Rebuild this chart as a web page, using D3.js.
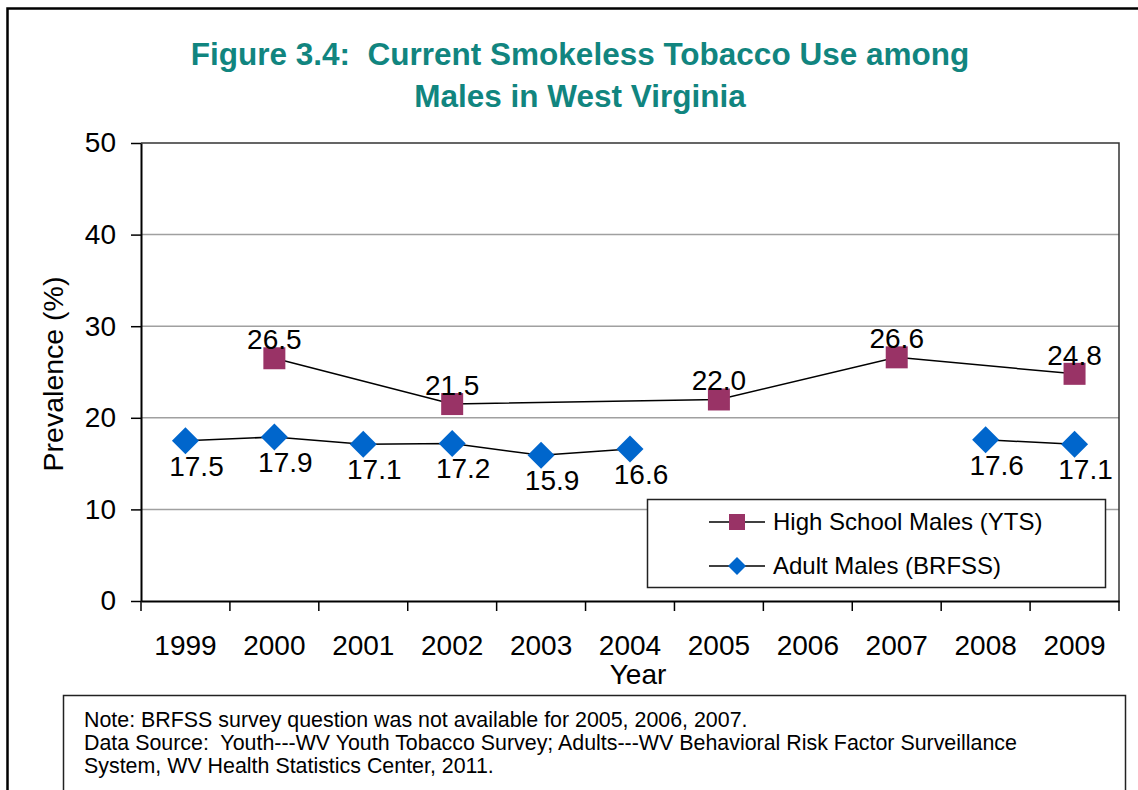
<!DOCTYPE html>
<html>
<head>
<meta charset="utf-8">
<script src="https://cdn.jsdelivr.net/npm/d3@7"></script>
<style>
  html, body { margin: 0; padding: 0; background: #fff; }
  svg { display: block; font-family: "Liberation Sans", Arial, sans-serif; }
  svg text { white-space: pre; }
</style>
</head>
<body>
<svg id="chart" width="1138" height="790"></svg>
<script>
// Survey years on the category axis
const years = ["1999", "2000", "2001", "2002", "2003", "2004", "2005", "2006", "2007", "2008", "2009"];
// High school males, Youth Tobacco Survey (null = not surveyed)
const ytsValues = [null, 26.5, null, 21.5, null, null, 22.0, null, 26.6, null, 24.8];
// Adult males, BRFSS (null = question not asked)
const brfssValues = [17.5, 17.9, 17.1, 17.2, 15.9, 16.6, null, null, null, 17.6, 17.1];
// Value axis ticks
const yTicks = [0, 10, 20, 30, 40, 50];
const seriesNames = ["High School Males (YTS)", "Adult Males (BRFSS)"];
const titleLines = ["Figure 3.4:  Current Smokeless Tobacco Use among", "Males in West Virginia"];
const noteLines = [
  "Note: BRFSS survey question was not available for 2005, 2006, 2007.",
  "Data Source:  Youth---WV Youth Tobacco Survey; Adults---WV Behavioral Risk Factor Surveillance",
  "System, WV Health Statistics Center, 2011."
];

const svg = d3.select("#chart");
const plot = { left: 141, right: 1119, top: 143, bottom: 601 };
const ytsColor = "#993366";
const brfssColor = "#0066cc";

// Outer frame
svg.append("rect")
  .attr("x", 7.5).attr("y", 8.5)
  .attr("width", 1200).attr("height", 900)
  .attr("fill", "none").attr("stroke", "#000").attr("stroke-width", 2.5);

// Title
svg.append("g").selectAll("text")
  .data(titleLines)
  .join("text")
  .attr("x", 580)
  .attr("y", (d, i) => 65 + i * 42)
  .attr("text-anchor", "middle")
  .attr("font-size", "31.5px")
  .attr("font-weight", "bold")
  .attr("fill", "#11857f")
  .text(d => d);

const x = d3.scaleBand().domain(years).range([plot.left, plot.right]).padding(0);
const y = d3.scaleLinear().domain([0, 50]).range([plot.bottom, plot.top]);

// Horizontal gridlines
svg.append("g").selectAll("line")
  .data(yTicks.filter(t => t > 0 && t < 50))
  .join("line")
  .attr("x1", plot.left).attr("x2", plot.right)
  .attr("y1", d => y(d)).attr("y2", d => y(d))
  .attr("stroke", "#a0a0a0").attr("stroke-width", 1.5);

// Plot frame (top and right)
svg.append("path")
  .attr("d", `M${plot.left},${y(50)}H${plot.right}V${plot.bottom}`)
  .attr("fill", "none").attr("stroke", "#333").attr("stroke-width", 1.5);

// Y axis
const yAxis = svg.append("g")
  .attr("transform", `translate(${plot.left},0)`)
  .call(d3.axisLeft(y).tickValues(yTicks).tickSize(10).tickPadding(15).tickSizeOuter(0));
yAxis.select(".domain").attr("stroke", "#000").attr("stroke-width", 2);
yAxis.selectAll(".tick line").attr("stroke", "#000").attr("stroke-width", 1.5);
yAxis.selectAll(".tick text").attr("font-size", "28px").attr("fill", "#000")
  .attr("font-family", "Liberation Sans, Arial, sans-serif");

// X axis: labels centred in each category, tick marks on the category boundaries
const xAxis = svg.append("g")
  .attr("transform", `translate(0,${plot.bottom})`)
  .call(d3.axisBottom(x).tickSize(0).tickPadding(34).tickSizeOuter(0));
xAxis.select(".domain").attr("stroke", "#000").attr("stroke-width", 2);
xAxis.selectAll(".tick text").attr("font-size", "28px").attr("fill", "#000")
  .attr("font-family", "Liberation Sans, Arial, sans-serif");

const boundaries = years.map(d => x(d)).concat([x.range()[1]]);
svg.append("g").selectAll("line")
  .data(boundaries)
  .join("line")
  .attr("x1", d => d).attr("x2", d => d)
  .attr("y1", plot.bottom).attr("y2", plot.bottom + 10)
  .attr("stroke", "#000").attr("stroke-width", 1.5);

// Axis titles
svg.append("text")
  .attr("transform", `translate(53,${(plot.top + plot.bottom) / 2 + 2}) rotate(-90)`)
  .attr("text-anchor", "middle").attr("dy", "0.35em")
  .attr("font-size", "28.5px")
  .text("Prevalence (%)");

svg.append("text")
  .attr("x", 638).attr("y", 684)
  .attr("text-anchor", "middle")
  .attr("font-size", "28px")
  .text("Year");

const cx = d => x(d.year) + x.bandwidth() / 2;

const ytsData = years.map((yr, i) => ({ year: yr, value: ytsValues[i] }));
const brfssData = years.map((yr, i) => ({ year: yr, value: brfssValues[i] }));

// YTS line connects across the years without data
const ytsLine = d3.line().x(cx).y(d => y(d.value));
svg.append("path")
  .datum(ytsData.filter(d => d.value !== null))
  .attr("d", ytsLine)
  .attr("fill", "none").attr("stroke", "#000").attr("stroke-width", 1.5);

// BRFSS line breaks where the question was not asked
const brfssLine = d3.line().defined(d => d.value !== null).x(cx).y(d => y(d.value));
svg.append("path")
  .datum(brfssData)
  .attr("d", brfssLine)
  .attr("fill", "none").attr("stroke", "#000").attr("stroke-width", 1.5);

const squareSym = size => d3.symbol().type(d3.symbolSquare).size(size * size)();
const diamondPath = (w) => `M0,${-w / 2}L${w / 2},0L0,${w / 2}L${-w / 2},0Z`;

// Markers
svg.append("g").selectAll("path")
  .data(ytsData.filter(d => d.value !== null))
  .join("path")
  .attr("transform", d => `translate(${cx(d)},${y(d.value)})`)
  .attr("d", squareSym(22))
  .attr("fill", ytsColor);

svg.append("g").selectAll("path")
  .data(brfssData.filter(d => d.value !== null))
  .join("path")
  .attr("transform", d => `translate(${cx(d)},${y(d.value)})`)
  .attr("d", diamondPath(27))
  .attr("fill", brfssColor);

// Data labels
const fmt = d3.format(".1f");
svg.append("g").selectAll("text")
  .data(ytsData.filter(d => d.value !== null))
  .join("text")
  .attr("x", d => cx(d))
  .attr("y", d => y(d.value) - 19)
  .attr("dy", "0.35em")
  .attr("text-anchor", "middle")
  .attr("font-size", "28px")
  .text(d => fmt(d.value));

svg.append("g").selectAll("text")
  .data(brfssData.filter(d => d.value !== null))
  .join("text")
  .attr("x", d => cx(d) + 11)
  .attr("y", d => y(d.value) + 25)
  .attr("dy", "0.35em")
  .attr("text-anchor", "middle")
  .attr("font-size", "28px")
  .text(d => fmt(d.value));

// Legend
const legend = svg.append("g");
legend.append("rect")
  .attr("x", 647.5).attr("y", 499.5).attr("width", 458).attr("height", 88)
  .attr("fill", "#fff").attr("stroke", "#222").attr("stroke-width", 1.5);
const legendRows = [
  { name: seriesNames[0], marker: squareSym(16), color: ytsColor, y: 522 },
  { name: seriesNames[1], marker: diamondPath(18), color: brfssColor, y: 566 }
];
legendRows.forEach(r => {
  legend.append("line")
    .attr("x1", 709).attr("x2", 765).attr("y1", r.y).attr("y2", r.y)
    .attr("stroke", "#000").attr("stroke-width", 1.5);
  legend.append("path")
    .attr("transform", `translate(737,${r.y})`)
    .attr("d", r.marker).attr("fill", r.color);
  legend.append("text")
    .attr("x", 773).attr("y", r.y).attr("dy", "0.35em")
    .attr("font-size", "24px")
    .text(r.name);
});

// Note box
svg.append("rect")
  .attr("x", 63.5).attr("y", 695.5).attr("width", 1062).attr("height", 120)
  .attr("fill", "#fff").attr("stroke", "#222").attr("stroke-width", 1.5);
svg.append("g").selectAll("text")
  .data(noteLines)
  .join("text")
  .attr("x", 84)
  .attr("y", (d, i) => 727 + i * 23)
  .attr("font-size", "21.4px")
  .text(d => d);
</script>
</body>
</html>
